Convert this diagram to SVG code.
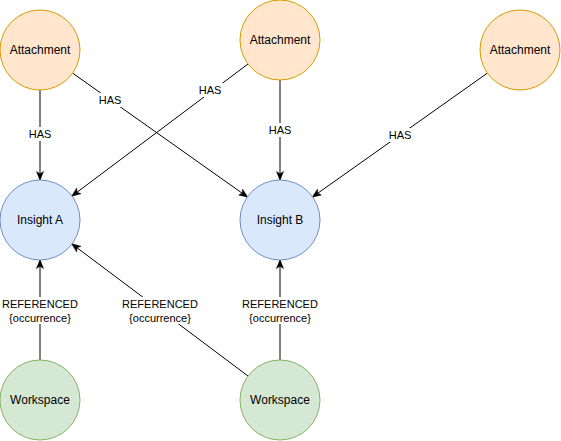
<svg xmlns="http://www.w3.org/2000/svg" width="561" height="441" viewBox="0 0 561 441">
<style>
.att{fill:#ffe6cc;stroke:#d79b00;stroke-width:1}
.ins{fill:#dae8fc;stroke:#6c8ebf;stroke-width:1}
.ws{fill:#d5e8d4;stroke:#82b366;stroke-width:1}
.nt{font-family:"Liberation Sans",Arial,sans-serif;font-size:12px;fill:#000;text-anchor:middle;dominant-baseline:central}
.e{stroke:#000;stroke-width:1;fill:none;marker-end:url(#arr)}
.lb{fill:#fff}
.et{font-family:"Liberation Sans",Arial,sans-serif;font-size:11px;fill:#000;text-anchor:middle;dominant-baseline:central}
</style>
<defs>
<marker id="arr" viewBox="0 0 10 10" refX="9.5" refY="5" markerWidth="9" markerHeight="9" markerUnits="userSpaceOnUse" orient="auto">
<path d="M0,1 L10,5 L0,9 L2.5,5 Z" fill="#000" stroke="#000" stroke-width="0.5"/>
</marker>
</defs>
<rect width="561" height="441" fill="#fff"/>
<g id="connectors">
<g id="e1"><line class="e" x1="40" y1="90" x2="40" y2="180"/><rect class="lb" x="27" y="127" width="26" height="14"/><text class="et" x="40" y="134">HAS</text></g>
<g id="e2"><line class="e" x1="72.6" y1="73.1" x2="247.4" y2="196.9"/><rect class="lb" x="97" y="93" width="26" height="14"/><text class="et" x="110" y="100">HAS</text></g>
<g id="e3"><line class="e" x1="248" y1="64" x2="72" y2="196"/><rect class="lb" x="197" y="83" width="26" height="14"/><text class="et" x="210" y="90">HAS</text></g>
<g id="e4"><line class="e" x1="280" y1="80" x2="280" y2="180"/><rect class="lb" x="267" y="123" width="26" height="14"/><text class="et" x="280" y="130">HAS</text></g>
<g id="e5"><line class="e" x1="487.4" y1="73.1" x2="312.6" y2="196.9"/><rect class="lb" x="387" y="128" width="26" height="14"/><text class="et" x="400" y="135">HAS</text></g>
<g id="e6"><line class="e" x1="40" y1="360" x2="40" y2="260"/><rect class="lb" x="2" y="297" width="76" height="27"/><text class="et" x="40" y="304">REFERENCED</text><text class="et" x="40" y="318">{occurrence}</text></g>
<g id="e7"><line class="e" x1="248" y1="376" x2="72" y2="244"/><rect class="lb" x="122" y="297" width="76" height="27"/><text class="et" x="160" y="304">REFERENCED</text><text class="et" x="160" y="318">{occurrence}</text></g>
<g id="e8"><line class="e" x1="280" y1="360" x2="280" y2="260"/><rect class="lb" x="242" y="297" width="76" height="27"/><text class="et" x="280" y="304">REFERENCED</text><text class="et" x="280" y="318">{occurrence}</text></g>
</g>
<g id="attachment1"><circle class="att" cx="40" cy="50" r="40"/><text class="nt" x="40" y="50">Attachment</text></g>
<g id="attachment2"><circle class="att" cx="280" cy="40" r="40"/><text class="nt" x="280" y="40">Attachment</text></g>
<g id="attachment3"><circle class="att" cx="520" cy="50" r="40"/><text class="nt" x="520" y="50">Attachment</text></g>
<g id="insightA"><circle class="ins" cx="40" cy="220" r="40"/><text class="nt" x="40" y="220">Insight A</text></g>
<g id="insightB"><circle class="ins" cx="280" cy="220" r="40"/><text class="nt" x="280" y="220">Insight B</text></g>
<g id="workspace1"><circle class="ws" cx="40" cy="400" r="40"/><text class="nt" x="40" y="400">Workspace</text></g>
<g id="workspace2"><circle class="ws" cx="280" cy="400" r="40"/><text class="nt" x="280" y="400">Workspace</text></g>
</svg>
